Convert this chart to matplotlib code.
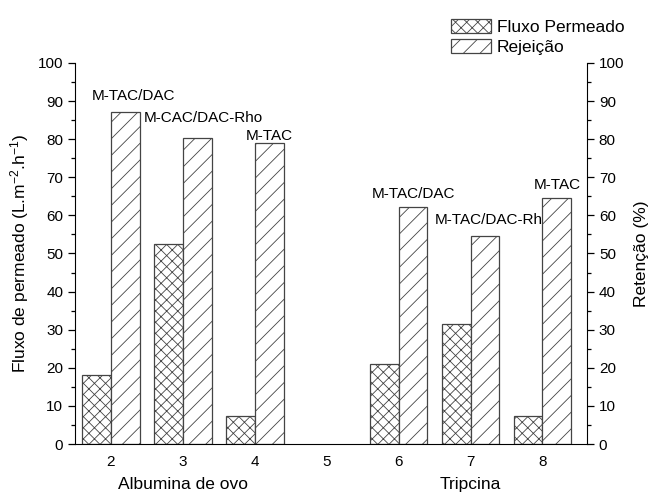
import matplotlib
matplotlib.use("Agg")
import matplotlib.pyplot as plt
from matplotlib.ticker import MultipleLocator

plt.rcParams['font.family'] = ['Liberation Sans', 'DejaVu Sans']
plt.rcParams['mathtext.fontset'] = 'custom'
plt.rcParams['mathtext.rm'] = 'Liberation Sans'
plt.rcParams['mathtext.it'] = 'Liberation Sans:italic'
plt.rcParams['mathtext.bf'] = 'Liberation Sans:bold'
plt.rcParams['hatch.linewidth'] = 0.6
plt.rcParams['hatch.color'] = '#333333'

positions = [2, 3, 4, 6, 7, 8]
fluxo = [18.0, 52.6, 7.4, 20.9, 31.6, 7.4]
rejeicao = [87.2, 80.4, 79.0, 62.2, 54.5, 64.5]
xticks = [2, 3, 4, 5, 6, 7, 8]
labels_txt = ["M-TAC/DAC", "M-CAC/DAC-Rho", "M-TAC", "M-TAC/DAC", "M-TAC/DAC-Rho", "M-TAC"]
label_x = [2.31, 2.46, 4.20, 6.20, 6.50, 8.21]
label_y = [91.3, 85.5, 80.8, 65.6, 58.7, 68.0]
label_ha = ['center', 'left', 'center', 'center', 'left', 'center']

fig = plt.figure(figsize=(6.53, 4.94), dpi=100)
ax = fig.add_axes([0.1149, 0.1012, 0.7841, 0.7713])
w = 0.4
ec = '#444444'
b1 = ax.bar([p - w / 2 for p in positions], fluxo, width=w, facecolor='white',
            edgecolor=ec, hatch='xxx', linewidth=0.9, zorder=2, label='Fluxo Permeado')
b2 = ax.bar([p + w / 2 for p in positions], rejeicao, width=w, facecolor='white',
            edgecolor=ec, hatch='//', linewidth=0.9, zorder=2, label='Rejeição')

for t, x, y, ha in zip(labels_txt, label_x, label_y, label_ha):
    ax.text(x, y, t, ha=ha, va='center', fontsize=11, zorder=1)

ax.set_xlim(1.5, 8.62)
ax.set_ylim(0, 100)
ax.set_xticks(xticks)
ax.tick_params(axis='x', length=0, labelsize=11, pad=8)
ax.yaxis.set_major_locator(MultipleLocator(10))
ax.yaxis.set_minor_locator(MultipleLocator(5))
ax.tick_params(axis='y', which='major', direction='out', length=5, labelsize=11, width=0.9)
ax.tick_params(axis='y', which='minor', direction='out', length=3, width=0.9)
ax.spines['top'].set_visible(False)
ax.spines['right'].set_visible(False)
ax.set_ylabel('Fluxo de permeado (L.m$^{-2}$.h$^{-1}$)', fontsize=12.5, labelpad=5)

ax2 = ax.twinx()
ax2.set_ylim(0, 100)
ax2.yaxis.set_major_locator(MultipleLocator(10))
ax2.yaxis.set_minor_locator(MultipleLocator(5))
ax2.tick_params(axis='y', which='major', direction='out', length=5, labelsize=11, width=0.9)
ax2.tick_params(axis='y', which='minor', direction='out', length=3, width=0.9)
ax2.spines['top'].set_visible(False)
ax2.spines['left'].set_visible(False)
ax2.spines['bottom'].set_visible(False)
ax2.set_ylabel('Retenção (%)', fontsize=12.5, labelpad=7)

ax.text(3, -0.105, 'Albumina de ovo', transform=ax.get_xaxis_transform(),
        ha='center', va='center', fontsize=12.5)
ax.text(7, -0.105, 'Tripcina', transform=ax.get_xaxis_transform(),
        ha='center', va='center', fontsize=12.5)

fig.legend(handles=[b1, b2], loc='upper left', bbox_to_anchor=(441 / 653, 1 - 9 / 494),
           frameon=False, fontsize=12.5, handlelength=2.3, handleheight=0.8,
           handletextpad=0.3, labelspacing=0.25, borderpad=0.1)

fig.savefig('out.png', dpi=100)
